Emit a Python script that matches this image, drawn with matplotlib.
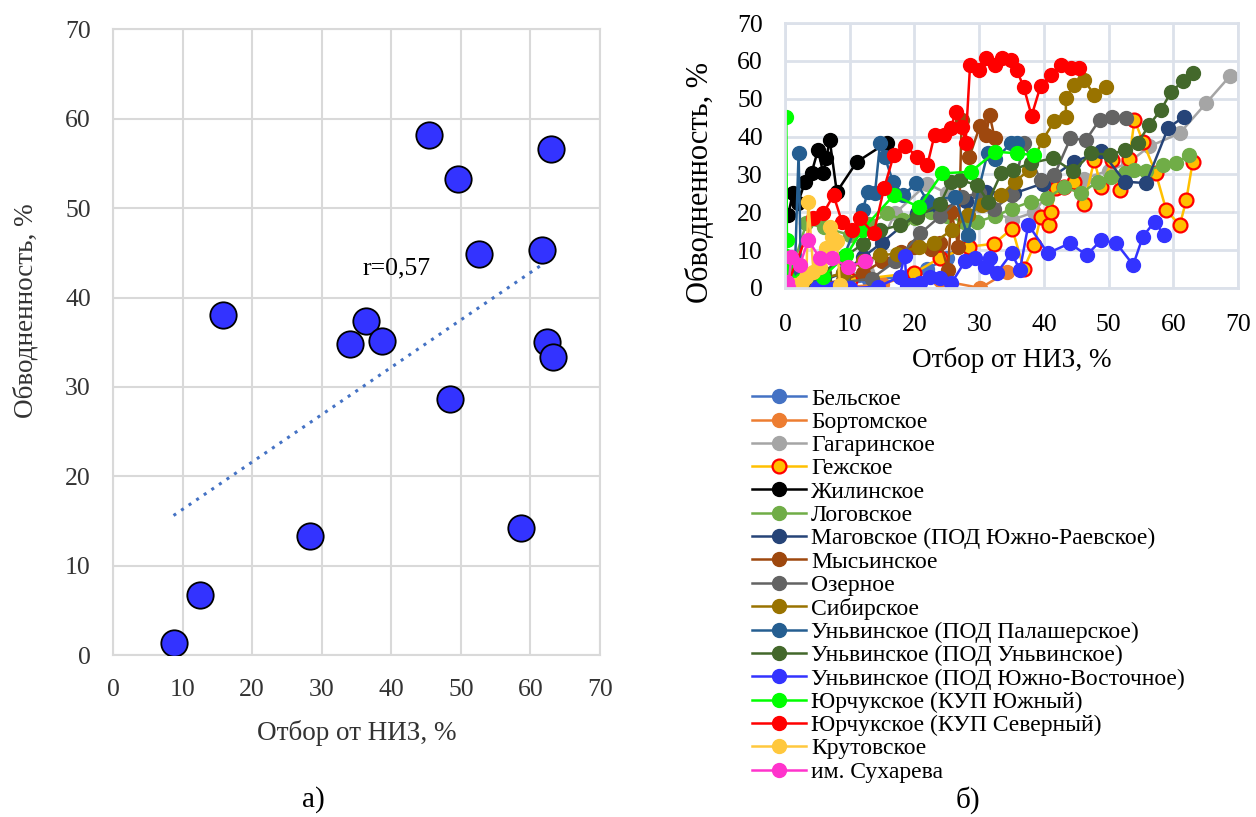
import matplotlib
matplotlib.use("Agg")
import matplotlib.pyplot as plt
import numpy as np

plt.rcParams['font.family'] = ['Liberation Serif', 'DejaVu Serif']

# --- chart a): scatter, Отбор от НИЗ vs Обводненность ---
a_x = [8.7, 12.5, 15.8, 28.3, 34.0, 36.4, 38.7, 45.4, 48.5, 49.6, 52.6, 58.6, 61.6, 62.4, 63.0, 63.3]
a_y = [1.4, 6.7, 38.0, 13.3, 34.8, 37.4, 35.1, 58.2, 28.6, 53.2, 44.9, 14.2, 45.3, 35.0, 56.6, 33.4]
r_text = "r=0,57"

# --- chart b): series by field ---
names = [
    "Бельское", "Бортомское", "Гагаринское", "Гежское", "Жилинское", "Логовское",
    "Маговское (ПОД Южно-Раевское)", "Мысьинское", "Озерное", "Сибирское",
    "Уньвинское (ПОД Палашерское)", "Уньвинское (ПОД Уньвинское)",
    "Уньвинское (ПОД Южно-Восточное)", "Юрчукское (КУП Южный)",
    "Юрчукское (КУП Северный)", "Крутовское", "им. Сухарева",
]
colors = ["#4472C4", "#ED7D31", "#A5A5A5", "#FFC000", "#000000", "#70AD47",
          "#264478", "#9E480E", "#636363", "#997300", "#255E91", "#43682B",
          "#3333FF", "#00FF00", "#FF0000", "#FFC83D", "#FF33CC"]

bel_x = [0.3, 2, 4, 6, 9, 13, 18, 22, 25, 28.3]
bel_y = [0, 0.3, 0.5, 0.5, 1, 2, 3, 5, 8, 13.6]
bort_x = [0.5, 5, 10, 15, 19.4, 24, 30.2, 34.3]
bort_y = [0, 0.5, 0.3, 1, 3.4, 2, 0, 4.2]
gag_x = [1, 6, 12.7, 17.0, 22.0, 25, 30, 35, 38.5, 41.6, 46.2, 50, 53, 56.3, 61.0, 65.1, 68.7]
gag_y = [0.5, 3, 4.2, 19.7, 27.6, 25, 22, 18, 20, 27.2, 28.9, 31, 33, 37.4, 40.9, 48.9, 55.9]
gezh_x = [0.5, 10, 20, 24, 28.4, 32.3, 35.1, 36.9, 38.5, 39.5, 40.8, 41.1, 41.8, 43.1, 44.7, 46.2,
          47.8, 48.8, 50.6, 51.7, 53.2, 54.0, 55.3, 57.3, 58.9, 61.0, 62.0, 63.0]
gezh_y = [0.2, 2, 4, 8, 10.9, 11.7, 15.7, 5.1, 11.3, 18.8, 16.6, 20.1, 26.3, 26.7, 28.1, 22.3,
          33.8, 26.7, 33.8, 25.9, 34.2, 44.4, 38.7, 30.3, 20.6, 16.6, 23.2, 33.4]
zhil_x = [0.5, 1.2, 2.0, 3.1, 4.1, 5.1, 5.9, 6.4, 6.9, 8.0, 11.1, 15.7]
zhil_y = [19.3, 25.1, 22.5, 28, 30.4, 36.5, 30.4, 34.4, 39.2, 25.4, 33.3, 38.4]
log_x = [0.3, 3.3, 6, 10, 13, 15.8, 18.3, 20.1, 22.5, 25, 27.6, 29.7, 32.5, 35.1, 38.0, 40.5,
         43.1, 45.7, 48.3, 50.4, 52.5, 54.0, 55.8, 58.4, 60.4, 62.5]
log_y = [0.5, 17.1, 16, 14, 17, 19.7, 17.9, 18.4, 20, 19, 17.5, 17.5, 19, 21.0, 22.8, 23.7,
         26.7, 25.0, 28.1, 29.4, 30.5, 31.2, 30.8, 32.6, 33.0, 35.2]
mag_x = [0.5, 3, 6, 9, 12.1, 15, 20.4, 24, 28, 31.0, 35.4, 39.8, 44.7, 48.9, 52.5, 55.8, 59.2, 61.7]
mag_y = [0.3, 1, 2, 4, 8.2, 12, 19.7, 21, 23, 25.4, 25.0, 27.6, 33.4, 36.1, 28.1, 27.7, 42.3, 45.3]
mys_x = [1, 5, 9, 12, 15, 18, 20, 22.5, 24, 25.2, 25.7, 26.8, 27.3, 28.5, 30.1, 31.1, 31.6, 32.4]
mys_y = [0.3, 1, 2, 4, 7, 9.5, 10.9, 10.4, 12, 4.8, 20.2, 10.9, 44.4, 34.7, 42.7, 40.5, 45.8, 39.6]
oz_x = [1, 5, 9, 13.4, 17, 20.9, 24, 27.4, 30, 32.3, 35.1, 36.9, 39.5, 41.6, 44.1, 46.5, 48.6, 50.6, 52.7]
oz_y = [0.5, 1, 1.5, 2.5, 7, 14.4, 19, 24.1, 25, 21.0, 24.5, 38.2, 28.5, 29.8, 39.5, 39.1, 44.4, 45.3, 44.8]
sib_x = [1, 5, 9, 12, 14.7, 17.3, 20.7, 23, 25.8, 28.2, 30.5, 33.3, 35.5, 37.7, 39.8, 41.6, 43.4,
         43.4, 44.7, 46.2, 47.8, 49.6]
sib_y = [0.5, 2, 4, 7, 8.6, 9.1, 10.9, 12, 15.3, 19.2, 22, 24.5, 28, 31.2, 39.1, 44.0, 45.3,
         50.1, 53.7, 55.0, 51.0, 53.2]
pal_x = [0.3, 1.5, 2.1, 2.5, 5, 9, 12.0, 12.8, 13.9, 14.7, 15.4, 16.7, 18.3, 20.3, 22, 26.3,
         28.2, 31.3, 32.5, 34.9, 35.9]
pal_y = [0.5, 3, 35.7, 1, 3, 8, 20.6, 25.4, 25.1, 38.4, 34.7, 28, 24.5, 27.8, 23, 24.1,
         13.9, 35.6, 34, 38.2, 38.2]
unv_x = [0.5, 3, 6, 9, 12.1, 14.7, 17.8, 20.4, 24.0, 25.6, 27.1, 29.7, 31.4, 33.4, 35.2, 38,
         41.4, 44.5, 47.3, 50.2, 52.5, 54.5, 56.3, 58.1, 59.7, 61.5, 63.0]
unv_y = [0.5, 2, 4, 8, 11.7, 15.3, 16.6, 18.8, 22.3, 28.1, 28.5, 27.2, 22.8, 30.3, 31.2, 33,
         34.3, 30.8, 35.6, 35.2, 36.5, 38.3, 43.1, 47.1, 51.9, 54.6, 56.8]
uv_x = [4.9, 6.3, 7.8, 10.0, 14.4, 17.7, 18.5, 18.8, 19.8, 20.8, 22.4, 23.9, 25.7, 27.8, 29.3,
        30.9, 31.6, 32.7, 35.0, 36.3, 37.6, 40.6, 44.0, 46.6, 48.9, 51.2, 53.8, 55.3, 57.1, 58.6]
uv_y = [0, 0, 0, 0, 0.3, 3.0, 8.5, 0.8, 0.8, 1.2, 3.0, 2.6, 1.2, 7.0, 7.8,
        5.6, 7.8, 3.9, 9.2, 4.8, 16.7, 9.2, 11.8, 8.7, 12.7, 11.8, 6.1, 13.6, 17.5, 14.0]
yuzh_x = [0.2, 0.3, 0.1, 0.2, 0.3, 2.5, 5.9, 9.5, 11.9, 16.8, 20.7, 24.3, 28.7, 32.5, 35.8, 38.5]
yuzh_y = [45.3, 12.7, 8.5, 5.5, 3, 2, 3.0, 8.7, 15.3, 24.5, 21.4, 30.3, 30.7, 36.0, 35.6, 35.1]
sev_x = [0.3, 4.4, 5.9, 7.5, 8.8, 10.3, 11.6, 13.7, 15.3, 16.8, 18.6, 20.4, 22.0, 23.1, 24.5, 25.6,
         26.4, 27.4, 27.9, 28.6, 30.0, 31.1, 32.5, 33.6, 34.9, 35.8, 36.9, 38.1, 39.5, 41.1, 42.6,
         44.2, 45.5]
sev_y = [0.5, 18.4, 19.7, 24.5, 17.5, 15.3, 18.4, 14.4, 26.3, 35.1, 37.5, 34.7, 32.5, 40.4, 40.4, 42.2,
         46.6, 42.6, 38.2, 59.0, 57.6, 60.7, 59.0, 60.7, 60.3, 57.6, 53.0, 45.5, 53.4, 56.3, 59.0,
         58.1, 58.1]
krut_x = [0.3, 1.5, 2.6, 3.3, 3.6, 4.4, 5.4, 6.4, 7.0, 7.2, 7.7, 8.0, 8.5]
krut_y = [0, 0.8, 1.7, 3.0, 22.8, 4.3, 5.6, 10.5, 16.2, 13.6, 11.8, 12.5, 0.8]
suh_x = [0.3, 0.5, 1.0, 2.3, 3.6, 5.4, 7.2, 9.8, 12.3]
suh_y = [1.5, 0.3, 8.3, 6.1, 12.7, 7.8, 7.8, 5.6, 7.0]

series_x = [bel_x, bort_x, gag_x, gezh_x, zhil_x, log_x, mag_x, mys_x, oz_x, sib_x,
            pal_x, unv_x, uv_x, yuzh_x, sev_x, krut_x, suh_x]
series_y = [bel_y, bort_y, gag_y, gezh_y, zhil_y, log_y, mag_y, mys_y, oz_y, sib_y,
            pal_y, unv_y, uv_y, yuzh_y, sev_y, krut_y, suh_y]

fig = plt.figure(figsize=(12.56, 8.17), dpi=100)

# ---------- a) ----------
ax1 = fig.add_axes([0.09, 0.198, 0.3877, 0.7662])
ax1.plot(a_x, a_y, linestyle='none', marker='o', markersize=19,
         markerfacecolor='#3333FF', markeredgecolor='black', markeredgewidth=1.3, zorder=3)
k, b = np.polyfit(a_x, a_y, 1)
tx = np.array([min(a_x), max(a_x) - 1])
ax1.plot(tx, k * tx + b, linestyle=(0, (1, 2)), color='#4472C4', linewidth=2.2, zorder=2)
ax1.text(35.8, 43.2, r_text, fontsize=18.5, va='center', ha='left')
ax1.set_xlim(0, 70)
ax1.set_ylim(0, 70)
ax1.set_xticks(range(0, 71, 10))
ax1.set_yticks(range(0, 71, 10))
ax1.grid(True, color='#D9D9D9', linewidth=1.5)
ax1.set_axisbelow(True)
for s in ax1.spines.values():
    s.set_color('#D9D9D9')
    s.set_linewidth(1.5)
ax1.tick_params(length=0, labelsize=18.5, colors='#333333')
ax1.tick_params(axis='x', pad=17)
ax1.tick_params(axis='y', pad=16)
ax1.set_xlabel("Отбор от НИЗ, %", fontsize=19.5, color='#333333', labelpad=14)
ax1.set_ylabel("Обводненность, %", fontsize=19.5, color='#333333', labelpad=19)
ax1.yaxis.label.set_y(0.55)
fig.text(313 / 1256, 1 - 800 / 817, "а)", fontsize=21, ha='center', va='center')

# ---------- б) ----------
ax2 = fig.add_axes([0.625, 0.6475, 0.3607, 0.3243])
handles = []
for name, c, xs, ys in zip(names, colors, series_x, series_y):
    edge = '#FF0000' if name == "Гежское" else c
    mew = 1.6 if name == "Гежское" else 1
    h, = ax2.plot(xs, ys, color=c, linewidth=1.8, marker='o', markersize=10,
                  markerfacecolor=c, markeredgecolor=edge, markeredgewidth=mew, label=name)
    handles.append(h)
ax2.set_xlim(0, 70)
ax2.set_ylim(0, 70)
ax2.set_xticks(range(0, 71, 10))
ax2.set_yticks(range(0, 71, 10))
ax2.grid(True, color='#DCE1EA', linewidth=2)
ax2.set_axisbelow(True)
for s in ax2.spines.values():
    s.set_color('#DCE1EA')
    s.set_linewidth(2)
ax2.tick_params(length=0, labelsize=18.5)
ax2.tick_params(axis='x', pad=19)
ax2.tick_params(axis='y', pad=16)
ax2.set_xlabel("Отбор от НИЗ, %", fontsize=19.5, labelpad=8)
ax2.set_ylabel("Обводненность, %", fontsize=22, labelpad=16)
ax2.yaxis.label.set_y(0.40)

fig.legend(handles=handles, loc='upper left', bbox_to_anchor=(752 / 1256, 1 - 388 / 817),
           frameon=False, fontsize=17, labelspacing=0.075, handlelength=2.3,
           handletextpad=0.2, borderaxespad=0, borderpad=0)
fig.text(968 / 1256, 1 - 800 / 817, "б)", fontsize=21, ha='center', va='center')

fig.savefig("out.png", dpi=100)
